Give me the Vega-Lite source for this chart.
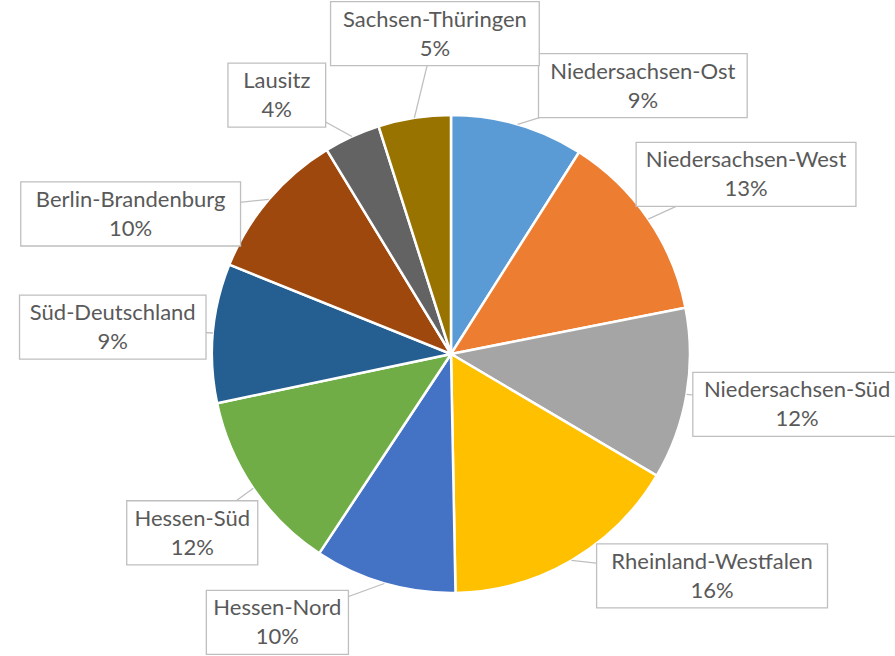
{
  "$schema": "https://vega.github.io/schema/vega-lite/v6.json",
  "width": 604,
  "height": 604,
  "autosize": {"type": "none"},
  "padding": {"left": 149, "top": 52, "right": 142, "bottom": 0},
  "background": "white",
  "config": {"view": {"stroke": null}},
  "data": {
    "values": [
      {"region": "Niedersachsen-Ost", "share": 9.0},
      {"region": "Niedersachsen-West", "share": 12.9},
      {"region": "Niedersachsen-Süd", "share": 11.6},
      {"region": "Rheinland-Westfalen", "share": 16.2},
      {"region": "Hessen-Nord", "share": 9.6},
      {"region": "Hessen-Süd", "share": 12.4},
      {"region": "Süd-Deutschland", "share": 9.4},
      {"region": "Berlin-Brandenburg", "share": 10.2},
      {"region": "Lausitz", "share": 3.8},
      {"region": "Sachsen-Thüringen", "share": 4.9}
    ]
  },
  "transform": [
    {"window": [{"op": "row_number", "as": "idx"}]},
    {"joinaggregate": [{"op": "sum", "field": "share", "as": "total"}]},
    {"window": [{"op": "sum", "field": "share", "as": "cum"}], "sort": [{"field": "idx"}], "frame": [null, 0]},
    {"calculate": "2*PI*(datum.cum - datum.share/2)/datum.total", "as": "ang"},
    {"calculate": "datum.ang + 0.2443", "as": "angp"},
    {"calculate": "datum.ang + 0.6109*sin(2*datum.angp)*pow(cos(datum.angp),4)", "as": "lang"},
    {"calculate": "datum.share/datum.total", "as": "pct"},
    {"calculate": "(length(datum.region)*11.1+20)/478", "as": "hw"},
    {"calculate": "sin(datum.ang)", "as": "ex"},
    {"calculate": "cos(datum.ang)", "as": "ey"},
    {"calculate": "(1.03+datum.hw)*sin(datum.lang)", "as": "lx"},
    {"calculate": "1.342*cos(datum.lang)", "as": "ly"},
    {"calculate": "datum.lx-datum.hw", "as": "bx1"},
    {"calculate": "datum.lx+datum.hw", "as": "bx2"},
    {"calculate": "datum.ly-0.134", "as": "by1"},
    {"calculate": "datum.ly+0.134", "as": "by2"}
  ],
  "layer": [
    {
      "mark": {"type": "arc", "outerRadius": 239, "stroke": "white", "strokeWidth": 2.5},
      "encoding": {
        "theta": {"field": "share", "type": "quantitative", "stack": true},
        "order": {"field": "idx", "type": "quantitative"},
        "color": {
          "field": "region",
          "type": "nominal",
          "legend": null,
          "scale": {
            "domain": ["Niedersachsen-Ost", "Niedersachsen-West", "Niedersachsen-Süd", "Rheinland-Westfalen", "Hessen-Nord", "Hessen-Süd", "Süd-Deutschland", "Berlin-Brandenburg", "Lausitz", "Sachsen-Thüringen"],
            "range": ["#5B9BD5", "#ED7D31", "#A5A5A5", "#FFC000", "#4472C4", "#70AD47", "#255E91", "#9E480E", "#636363", "#997300"]
          }
        }
      }
    },
    {
      "mark": {"type": "rule", "stroke": "#BFBFBF", "strokeWidth": 1.3},
      "encoding": {
        "x": {"field": "ex", "type": "quantitative", "scale": {"domain": [-1.2636, 1.2636], "nice": false, "zero": false}, "axis": null},
        "y": {"field": "ey", "type": "quantitative", "scale": {"domain": [-1.2636, 1.2636], "nice": false, "zero": false}, "axis": null},
        "x2": {"field": "lx"},
        "y2": {"field": "ly"}
      }
    },
    {
      "mark": {"type": "rect", "fill": "white", "stroke": "#BFBFBF", "strokeWidth": 1.3},
      "encoding": {
        "x": {"field": "bx1", "type": "quantitative"},
        "x2": {"field": "bx2"},
        "y": {"field": "by1", "type": "quantitative"},
        "y2": {"field": "by2"}
      }
    },
    {
      "mark": {"type": "text", "font": "Lato", "fontSize": 22, "fill": "#595959", "baseline": "middle", "align": "center", "dy": -14},
      "encoding": {
        "x": {"field": "lx", "type": "quantitative"},
        "y": {"field": "ly", "type": "quantitative"},
        "text": {"field": "region", "type": "nominal"}
      }
    },
    {
      "mark": {"type": "text", "font": "Lato", "fontSize": 22, "fill": "#595959", "baseline": "middle", "align": "center", "dy": 15},
      "encoding": {
        "x": {"field": "lx", "type": "quantitative"},
        "y": {"field": "ly", "type": "quantitative"},
        "text": {"field": "pct", "type": "quantitative", "format": ".0%"}
      }
    }
  ]
}
